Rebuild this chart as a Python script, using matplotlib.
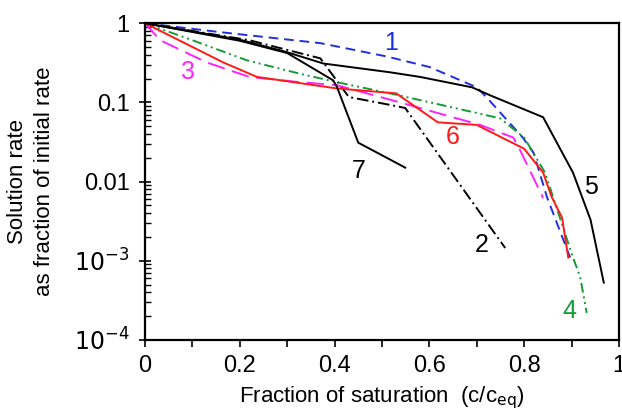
import numpy as np
import matplotlib
matplotlib.use('Agg')
from matplotlib import pyplot as plt
from matplotlib.ticker import FixedLocator, LogLocator, NullFormatter

plt.rcParams['font.family'] = ['Liberation Sans', 'DejaVu Sans']

# curve data (x = c/ceq, y = rate / initial rate)
x1 = [0, 0.16, 0.37, 0.51, 0.60, 0.70, 0.72, 0.797, 0.82, 0.848, 0.897]
y1 = [1, 0.77, 0.56, 0.38, 0.28, 0.155, 0.117, 0.036, 0.023, 0.0064, 0.0011]

x2 = [0, 0.22, 0.37, 0.43, 0.517, 0.549, 0.76]
y2 = [1, 0.61, 0.36, 0.117, 0.093, 0.085, 0.00145]

x3 = [0, 0.032, 0.13, 0.22, 0.327, 0.405, 0.538, 0.707, 0.777, 0.79, 0.84]
y3 = [1, 0.61, 0.32, 0.21, 0.18, 0.165, 0.10, 0.052, 0.036, 0.026, 0.0062]

x4 = [0, 0.10, 0.215, 0.327, 0.405, 0.517, 0.58, 0.749, 0.80, 0.844, 0.903, 0.918, 0.932]
y4 = [1, 0.61, 0.34, 0.23, 0.18, 0.13, 0.107, 0.063, 0.036, 0.013, 0.0011, 0.00063, 0.00022]

x5 = [0, 0.2, 0.30, 0.376, 0.517, 0.58, 0.69, 0.728, 0.84, 0.903, 0.94, 0.968]
y5 = [1, 0.62, 0.43, 0.31, 0.24, 0.21, 0.155, 0.123, 0.065, 0.013, 0.0033, 0.00053]

x6 = [0, 0.165, 0.236, 0.405, 0.53, 0.618, 0.70, 0.749, 0.80, 0.84, 0.858, 0.88, 0.893]
y6 = [1, 0.32, 0.21, 0.15, 0.13, 0.056, 0.052, 0.037, 0.026, 0.013, 0.0064, 0.0035, 0.0011]

x7 = [0, 0.2, 0.30, 0.397, 0.405, 0.45, 0.517, 0.549]
y7 = [1, 0.6, 0.42, 0.19, 0.157, 0.031, 0.019, 0.015]

labels = ['1', '2', '3', '4', '5', '6', '7']
label_xy = [(0.52, 0.57), (0.71, 0.0016), (0.09, 0.24), (0.895, 0.00023),
            (0.94, 0.0085), (0.65, 0.037), (0.45, 0.0135)]
colors = ['#1f2fe0', 'black', '#ff22ff', '#169a35', 'black', '#ff1a1a', 'black']
styles = [(0, (5, 3)), (0, (6, 2, 1, 2)), (0, (9, 4)), (0, (5, 2, 1, 2, 1, 2)),
          '-', '-', '-']

xs = [x1, x2, x3, x4, x5, x6, x7]
ys = [y1, y2, y3, y4, y5, y6, y7]

fig = plt.figure(figsize=(6.22, 4.13), dpi=100)
ax = fig.add_axes([0.2331, 0.1768, 0.762, 0.767])

for x, y, c, ls in zip(xs, ys, colors, styles):
    ax.plot(x, y, color=c, linestyle=ls, lw=1.4)

for lab, (lx, ly), c in zip(labels, label_xy, colors):
    ax.text(lx, ly, lab, color=c, fontsize=18, ha='center', va='center')

ax.set_yscale('log')
ax.set_xlim(0, 1)
ax.set_ylim(1e-4, 1)

ax.set_xticks([0, 0.2, 0.4, 0.6, 0.8, 1])
ax.set_xticklabels(['0', '0.2', '0.4', '0.6', '0.8', '1'])
ax.xaxis.set_minor_locator(FixedLocator(np.arange(0.1, 1.0, 0.2)))
ax.tick_params(axis='x', which='both', direction='out', length=5, width=1.2,
               labelsize=17, top=False, pad=6)

ax.set_yticks([1e-4, 1e-3, 1e-2, 1e-1, 1])
ax.set_yticklabels(['$10^{-4}$', '$10^{-3}$', '0.01', '0.1', '1'])
ax.yaxis.set_minor_locator(LogLocator(base=10, subs=np.arange(2, 10)))
ax.yaxis.set_minor_formatter(NullFormatter())
ax.tick_params(axis='y', which='major', direction='inout', length=8, width=1.2,
               labelsize=17, right=False, pad=7)
ax.tick_params(axis='y', which='minor', direction='in', length=4, width=1.0,
               right=False)

for s in ax.spines.values():
    s.set_linewidth(1.6)

ax.set_xlabel('Fraction of saturation  (c/c$_{\\mathrm{eq}}$)', fontsize=16, labelpad=5)
ax.set_ylabel('Solution rate\nas fraction of initial rate', fontsize=16, labelpad=14,
              linespacing=1.35)

fig.savefig('out.png', dpi=100)
